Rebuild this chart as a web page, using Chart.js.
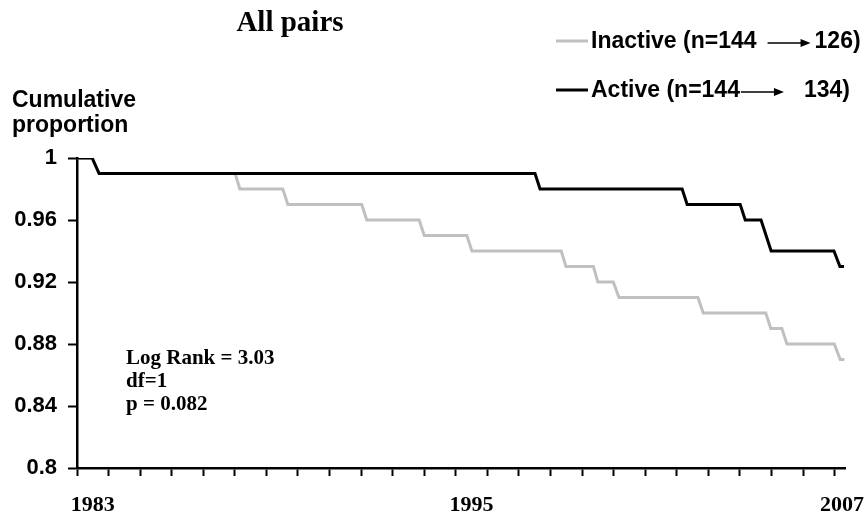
<!DOCTYPE html>
<html>
<head>
<meta charset="utf-8">
<script src="https://cdn.jsdelivr.net/npm/chart.js@4"></script>
<style>
  body { margin: 0; background: #fff; }
  #wrap { width: 867px; height: 524px; position: relative; }
</style>
</head>
<body>
<div id="wrap"><canvas id="myChart"></canvas></div>
<script>
var chartTitle = "All pairs";
var yTitle = ["Cumulative", "proportion"];
var seriesNames = ["Active", "Inactive"];
var seriesCounts = [["(n=144", "134)"], ["(n=144", "126)"]];
var statsText = ["Log Rank = 3.03", "df=1", "p = 0.082"];
var xTickLabels = [1983, 1995, 2007];
var yTicks = [0.8, 0.84, 0.88, 0.92, 0.96, 1];

// survival steps (year, cumulative proportion)
var activeYears = [1983, 1983.48, 1983.70, 1997.51, 1997.67, 2002.17, 2002.33, 2004.01, 2004.17,
                   2004.67, 2004.99, 2006.98, 2007.17, 2007.30];
var activeValues = [1, 1, 0.99, 0.99, 0.98, 0.98, 0.97, 0.97, 0.96, 0.96, 0.94, 0.94, 0.93, 0.93];

var inactiveYears = [1983, 1983.48, 1983.70, 1988.01, 1988.16, 1989.52, 1989.68, 1992.02, 1992.18,
                     1993.84, 1994.00, 1995.35, 1995.51, 1998.34, 1998.49, 1999.36, 1999.50, 1999.99,
                     2000.17, 2002.67, 2002.84, 2004.82, 2004.98, 2005.33, 2005.49, 2006.99, 2007.18, 2007.31];
var inactiveValues = [1, 1, 0.99, 0.99, 0.98, 0.98, 0.97, 0.97, 0.96, 0.96, 0.95, 0.95, 0.94, 0.94,
                      0.93, 0.93, 0.92, 0.92, 0.91, 0.91, 0.90, 0.90, 0.89, 0.89, 0.88, 0.88, 0.87, 0.87];

var colors = ["#000000", "#c0c0c0"];

function toPoints(xs, ys) {
    return xs.map(function (x, i) { return { x: x, y: ys[i] }; });
}

function drawArrow(ctx, x, y, len) {
    ctx.strokeStyle = "#000";
    ctx.fillStyle = "#000";
    ctx.lineWidth = 1.5;
    ctx.beginPath();
    ctx.moveTo(x, y);
    ctx.lineTo(x + len - 6, y);
    ctx.stroke();
    ctx.beginPath();
    ctx.moveTo(x + len, y);
    ctx.lineTo(x + len - 10, y - 4);
    ctx.lineTo(x + len - 10, y + 4);
    ctx.closePath();
    ctx.fill();
}

var extraText = {
    id: "extraText",
    afterDraw: function (chart) {
        var ctx = chart.ctx;
        var xs = chart.scales.x;
        ctx.save();
        ctx.fillStyle = "#000";

        // title
        ctx.font = "bold 29px 'Liberation Serif'";
        ctx.textAlign = "center";
        ctx.textBaseline = "alphabetic";
        ctx.fillText(chartTitle, 290, 31);

        // y axis title
        ctx.font = "bold 23px 'Liberation Sans'";
        ctx.textAlign = "left";
        ctx.fillText(yTitle[0], 12, 107);
        ctx.fillText(yTitle[1], 12, 132);

        // x labels, centred in the year after the tick, kept inside the canvas
        ctx.font = "bold 22px 'Liberation Serif'";
        ctx.textAlign = "center";
        xTickLabels.forEach(function (yr) {
            var w = ctx.measureText(String(yr)).width;
            var px = xs.getPixelForValue(yr + 0.5);
            px = Math.min(px, chart.width - w / 2 - 3);
            ctx.fillText(String(yr), px, 511);
        });

        // stats
        ctx.font = "bold 21px 'Liberation Serif'";
        ctx.textAlign = "left";
        statsText.forEach(function (t, i) {
            ctx.fillText(t, 126, 364 + i * 23);
        });

        // legend (inactive on top)
        ctx.font = "bold 23px 'Liberation Sans'";
        ctx.textBaseline = "middle";
        var gaps = [[1, 20], [11, 4]];
        [1, 0].forEach(function (s, row) {
            var y = 41 + row * 49;
            ctx.strokeStyle = colors[s];
            ctx.lineWidth = 3;
            ctx.beginPath();
            ctx.moveTo(556, y);
            ctx.lineTo(588, y);
            ctx.stroke();
            var x = 591;
            var first = seriesNames[s] + " " + seriesCounts[s][0];
            ctx.fillStyle = "#000";
            ctx.fillText(first, x, y + 1);
            x += ctx.measureText(first).width + gaps[s][0];
            drawArrow(ctx, x, y + 2, 43);
            x += 43 + gaps[s][1];
            ctx.fillStyle = "#000";
            ctx.fillText(seriesCounts[s][1], x, y + 1);
        });
        ctx.restore();
    }
};

var ctx = document.getElementById("myChart").getContext("2d");

new Chart(ctx, {
    type: "line",
    data: {
        datasets: [
            {
                label: seriesNames[0],
                data: toPoints(activeYears, activeValues),
                borderColor: colors[0],
                borderWidth: 3,
                pointRadius: 0,
                tension: 0,
                fill: false
            },
            {
                label: seriesNames[1],
                data: toPoints(inactiveYears, inactiveValues),
                borderColor: colors[1],
                borderWidth: 3,
                pointRadius: 0,
                tension: 0,
                fill: false
            }
        ]
    },
    options: {
        responsive: true,
        maintainAspectRatio: false,
        animation: false,
        layout: {
            padding: { top: 158, right: 22, left: 0, bottom: 0 }
        },
        plugins: {
            legend: { display: false },
            title: { display: false },
            tooltip: { enabled: false }
        },
        scales: {
            x: {
                type: "linear",
                min: 1983,
                max: 2007.33,
                afterBuildTicks: function (scale) {
                    var t = [];
                    for (var v = 1983; v <= 2007; v++) t.push({ value: v });
                    scale.ticks = t;
                },
                afterFit: function (scale) { scale.height = 56; },
                ticks: { display: false, autoSkip: false },
                grid: {
                    drawOnChartArea: false,
                    tickLength: 8,
                    tickWidth: 2,
                    tickColor: "#000"
                },
                border: { color: "#000", width: 2.5 }
            },
            y: {
                min: 0.8,
                max: 1,
                afterBuildTicks: function (scale) {
                    scale.ticks = yTicks.map(function (v) { return { value: v }; });
                },
                afterFit: function (scale) { scale.width = 77; },
                ticks: {
                    color: "#000",
                    padding: 11,
                    font: { family: "'Liberation Sans'", size: 22, weight: "bold" },
                    callback: function (v) { return String(Number(v.toFixed(2))); }
                },
                grid: {
                    drawOnChartArea: false,
                    tickLength: 9,
                    tickWidth: 2,
                    tickColor: "#000"
                },
                border: { color: "#000", width: 2.5 }
            }
        }
    },
    plugins: [extraText]
});
</script>
</body>
</html>
